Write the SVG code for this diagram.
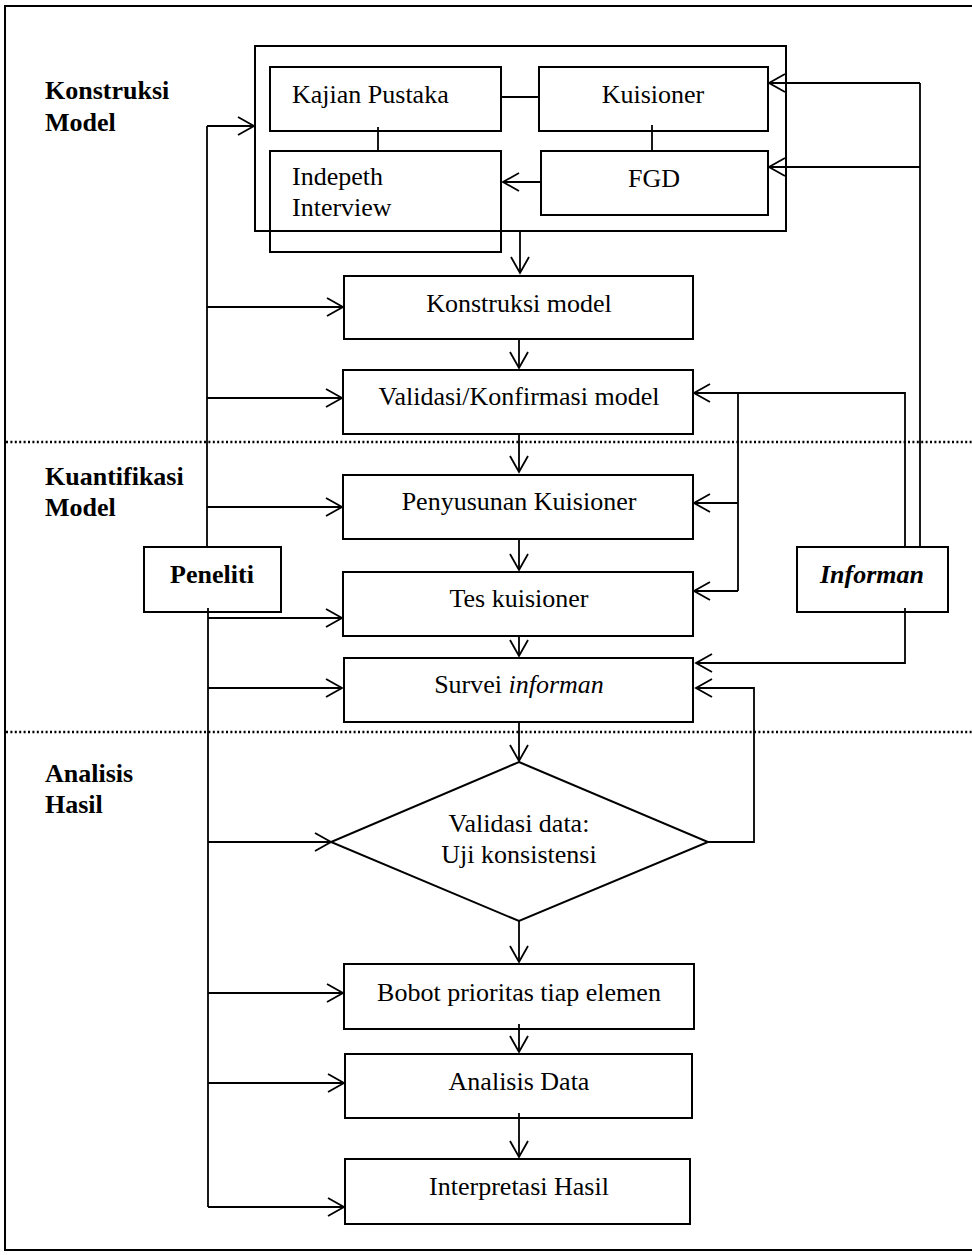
<svg xmlns="http://www.w3.org/2000/svg" width="972" height="1255" viewBox="0 0 972 1255">
<defs>
<marker id="arr" markerUnits="userSpaceOnUse" markerWidth="20" markerHeight="22" viewBox="-18 -11 20 22" refX="0" refY="0" orient="auto">
<path d="M-16,-9 L0,0 L-16,9" fill="none" stroke="#000" stroke-width="1.8"/>
</marker>
</defs>
<style>
.box{fill:none;stroke:#000;stroke-width:2}
.ln{fill:none;stroke:#000;stroke-width:1.8}
.ar{fill:none;stroke:#000;stroke-width:1.8;marker-end:url(#arr)}
.dot{stroke:#000;stroke-width:2.5;stroke-dasharray:2 2.4}
text{font-family:"Liberation Serif","Times New Roman",serif;font-size:26px;fill:#000}
.c{text-anchor:middle}
.b{font-weight:bold}
</style>
<rect x="5" y="6" width="975" height="1244" fill="#fff" stroke="#000" stroke-width="2"/>
<g id="sections">
<line class="dot" x1="6" y1="442" x2="972" y2="442"/>
<line class="dot" x1="6" y1="732" x2="972" y2="732"/>
<text class="b" x="45" y="99">Konstruksi</text>
<text class="b" x="45" y="131">Model</text>
<text class="b" x="45" y="485">Kuantifikasi</text>
<text class="b" x="45" y="516">Model</text>
<text class="b" x="45" y="782">Analisis</text>
<text class="b" x="45" y="813">Hasil</text>
</g>
<g id="n-group"><rect class="box" x="255" y="46" width="531" height="185"/></g>
<g id="n-kajian"><rect class="box" x="270" y="67" width="231" height="64"/><text x="292" y="103">Kajian Pustaka</text></g>
<g id="n-kuisioner"><rect class="box" x="539" y="67" width="229" height="64"/><text class="c" x="653" y="103">Kuisioner</text></g>
<g id="n-indepeth"><rect class="box" x="270" y="151" width="231" height="101"/><text x="292" y="185">Indepeth</text><text x="292" y="216">Interview</text></g>
<g id="n-fgd"><rect class="box" x="541" y="151" width="227" height="64"/><text class="c" x="654" y="187">FGD</text></g>
<g id="n-konstruksi"><rect class="box" x="344" y="276" width="349" height="63"/><text class="c" x="519" y="312">Konstruksi model</text></g>
<g id="n-validasi"><rect class="box" x="343" y="370" width="350" height="64"/><text class="c" x="519" y="405">Validasi/Konfirmasi model</text></g>
<g id="n-penyusunan"><rect class="box" x="343" y="475" width="350" height="64"/><text class="c" x="519" y="510">Penyusunan Kuisioner</text></g>
<g id="n-tes"><rect class="box" x="343" y="572" width="350" height="64"/><text class="c" x="519" y="607">Tes kuisioner</text></g>
<g id="n-survei"><rect class="box" x="344" y="658" width="349" height="64"/><text class="c" x="519" y="693">Survei <tspan font-style="italic">informan</tspan></text></g>
<g id="n-uji"><polygon class="box" points="519,762 708,842 519,921 331,842"/><text class="c" x="519" y="832">Validasi data:</text><text class="c" x="519" y="863">Uji konsistensi</text></g>
<g id="n-bobot"><rect class="box" x="344" y="964" width="350" height="65"/><text class="c" x="519" y="1001">Bobot prioritas tiap elemen</text></g>
<g id="n-analisis"><rect class="box" x="345" y="1054" width="347" height="64"/><text class="c" x="519" y="1090">Analisis Data</text></g>
<g id="n-interpretasi"><rect class="box" x="345" y="1159" width="345" height="65"/><text class="c" x="519" y="1195">Interpretasi Hasil</text></g>
<g id="n-peneliti"><rect class="box" x="144" y="547" width="137" height="65"/><text class="c b" x="212" y="583">Peneliti</text></g>
<g id="n-informan"><rect class="box" x="797" y="547" width="151" height="65"/><text class="c b" x="872" y="583" font-style="italic">Informan</text></g>
<g id="connectors">
<line class="ln" x1="501" y1="97" x2="539" y2="97"/>
<line class="ln" x1="378" y1="127" x2="378" y2="151"/>
<line class="ln" x1="652" y1="125" x2="652" y2="151"/>
<line class="ar" x1="541" y1="182" x2="503" y2="182"/>
<line class="ar" x1="520" y1="231" x2="520" y2="273"/>
<line class="ar" x1="519" y1="339" x2="519" y2="368"/>
<line class="ar" x1="519" y1="434" x2="519" y2="472"/>
<line class="ar" x1="519" y1="539" x2="519" y2="570"/>
<line class="ar" x1="519" y1="636" x2="519" y2="656"/>
<line class="ar" x1="519" y1="722" x2="519" y2="761"/>
<line class="ar" x1="519" y1="921" x2="519" y2="962"/>
<line class="ar" x1="519" y1="1024" x2="519" y2="1052"/>
<line class="ar" x1="519" y1="1113" x2="519" y2="1157"/>
<polyline class="ln" points="207,547 207,126"/>
<line class="ar" x1="207" y1="126" x2="254" y2="126"/>
<line class="ar" x1="207" y1="307" x2="343" y2="307"/>
<line class="ar" x1="207" y1="398" x2="342" y2="398"/>
<line class="ar" x1="207" y1="507" x2="342" y2="507"/>
<polyline class="ln" points="208,608 208,1207"/>
<line class="ar" x1="208" y1="618" x2="342" y2="618"/>
<line class="ar" x1="208" y1="688" x2="342" y2="688"/>
<line class="ar" x1="208" y1="842" x2="331" y2="842"/>
<line class="ar" x1="208" y1="993" x2="343" y2="993"/>
<line class="ar" x1="208" y1="1083" x2="344" y2="1083"/>
<line class="ar" x1="208" y1="1207" x2="344" y2="1207"/>
<polyline class="ln" points="920,547 920,83"/>
<line class="ar" x1="920" y1="83" x2="769" y2="83"/>
<line class="ar" x1="920" y1="167" x2="769" y2="167"/>
<polyline class="ar" points="905,547 905,393 694,393"/>
<polyline class="ln" points="738,393 738,591"/>
<line class="ar" x1="738" y1="503" x2="694" y2="503"/>
<line class="ar" x1="738" y1="591" x2="694" y2="591"/>
<polyline class="ar" points="905,608 905,663 696,663"/>
<polyline class="ar" points="708,842 754,842 754,688 696,688"/>
</g>
</svg>
